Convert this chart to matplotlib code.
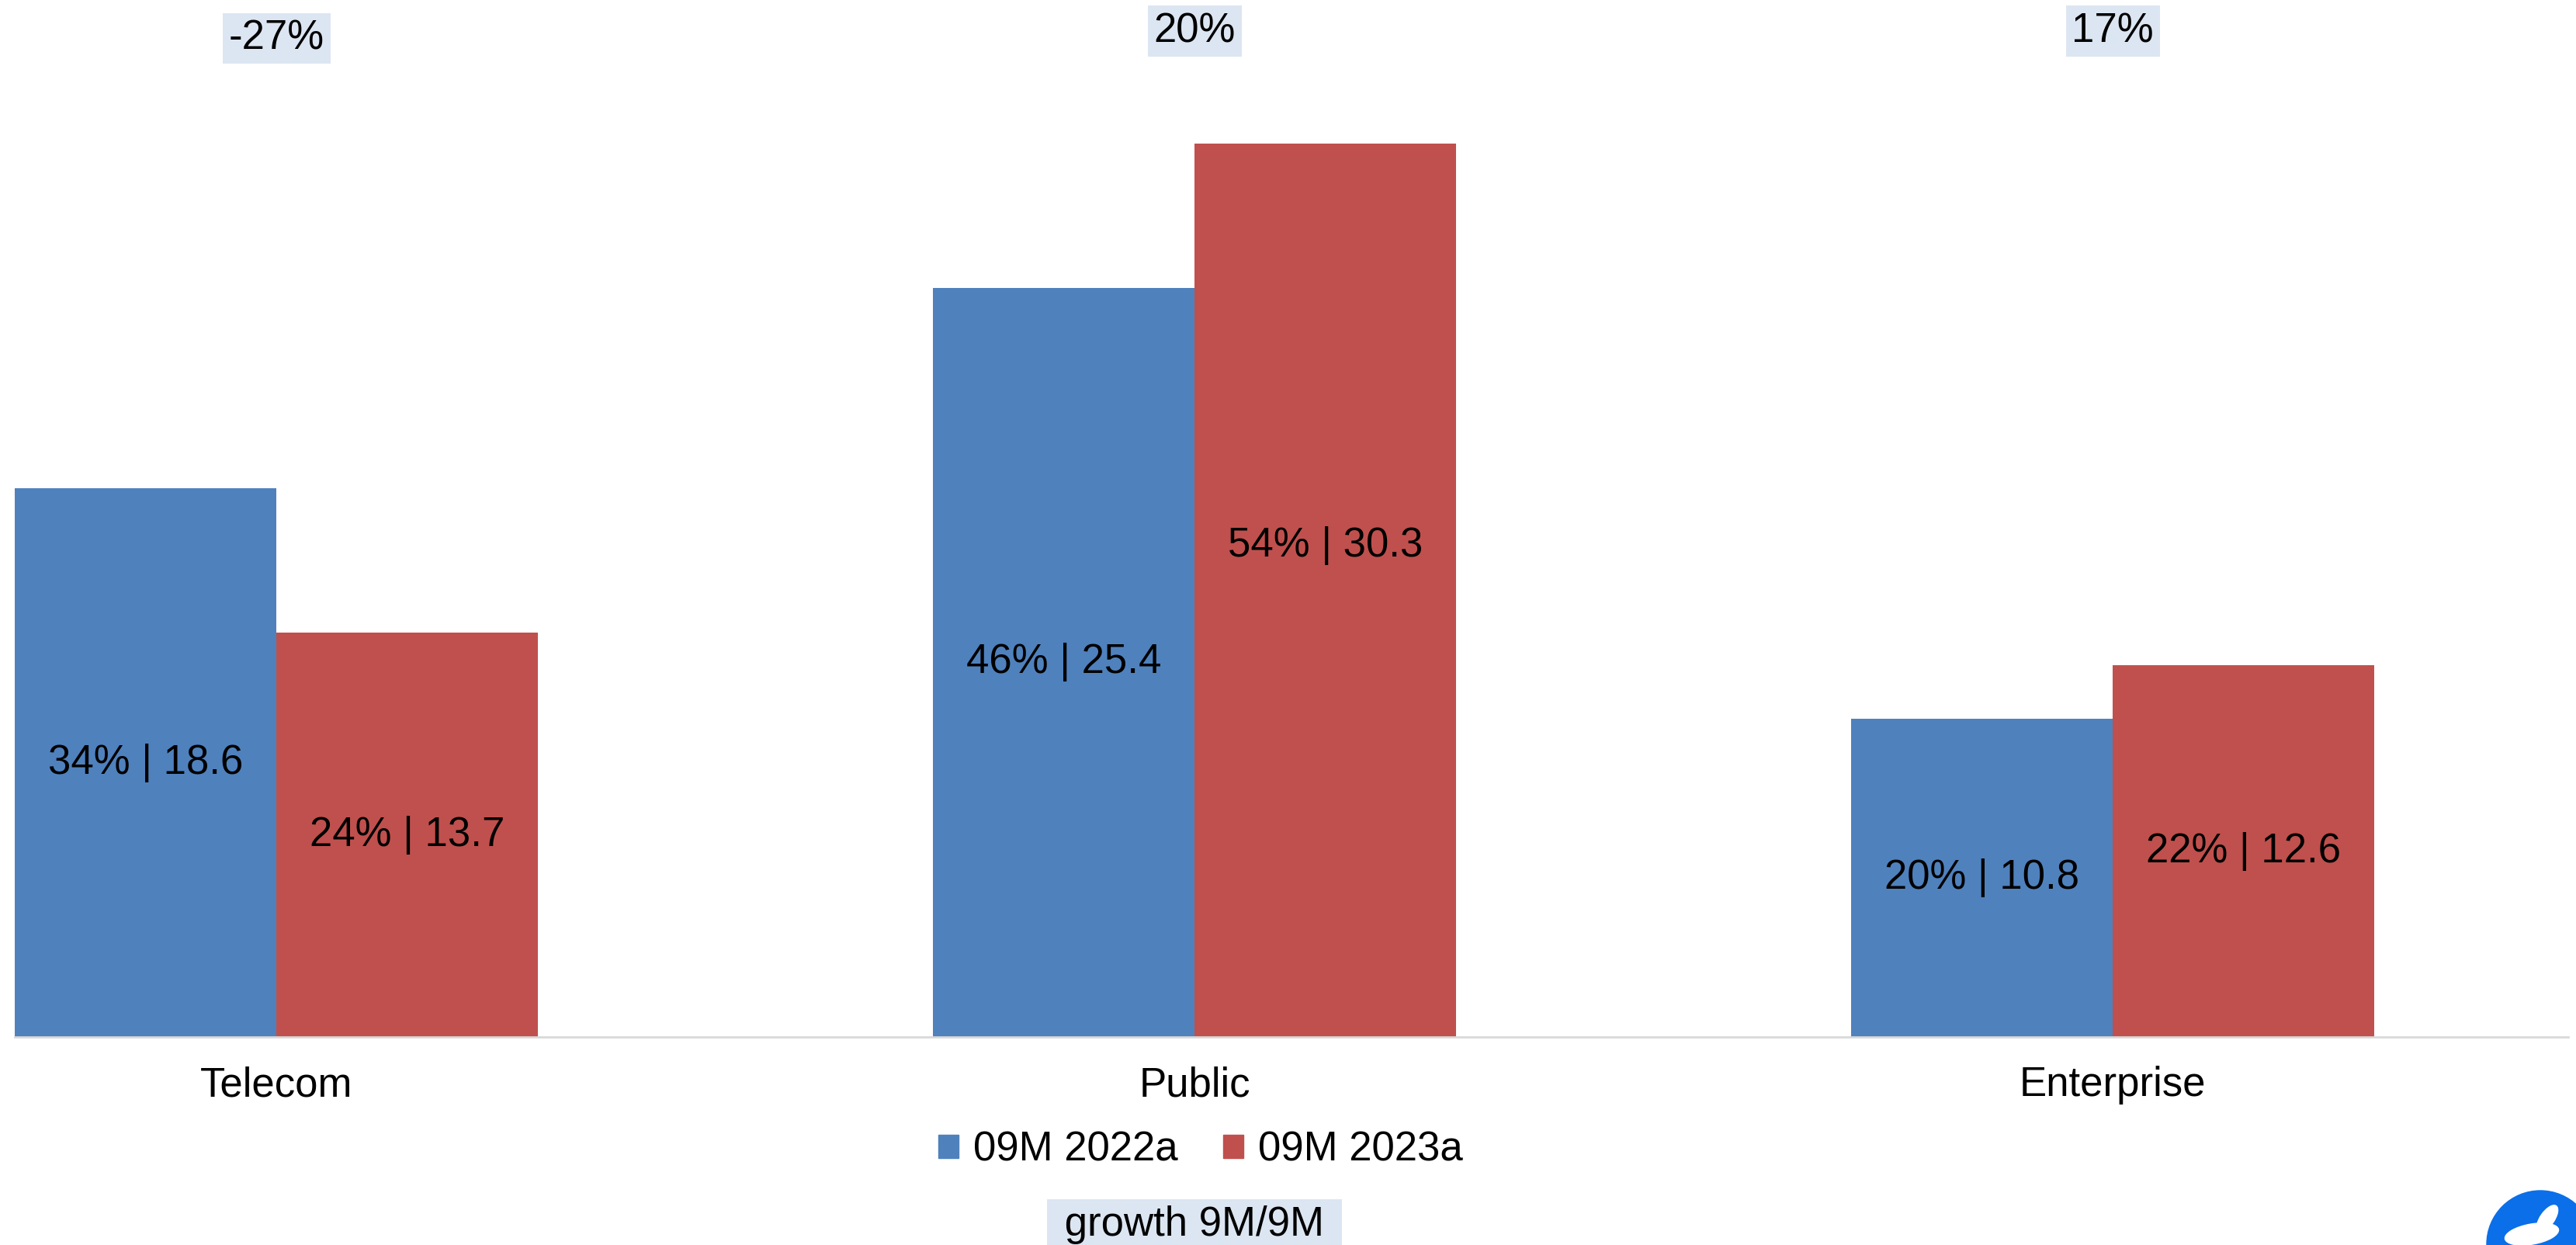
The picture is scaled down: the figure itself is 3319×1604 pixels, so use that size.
import numpy as np
import matplotlib.pyplot as plt
from matplotlib.patches import Patch, Circle, Ellipse

# data
categories = ["Telecom", "Public", "Enterprise"]
series = ["09M 2022a", "09M 2023a"]
values_2022 = [18.6, 25.4, 10.8]
values_2023 = [13.7, 30.3, 12.6]
share_2022 = ["34%", "46%", "20%"]
share_2023 = ["24%", "54%", "22%"]
growth = ["-27%", "20%", "17%"]

blue = "#4F81BD"
red = "#C0504D"
box_col = "#DCE6F2"

plt.rcParams['font.family'] = ['Liberation Sans', 'DejaVu Sans']
fs = 38

fig = plt.figure(figsize=(33.19, 16.04), dpi=100)
ax = fig.add_axes([0.0057, 0.1671, 0.9913, 0.8329])

x = np.arange(len(categories))
w = 0.285
b1 = ax.bar(x - w / 2, values_2022, width=w, color=blue, label=series[0])
b2 = ax.bar(x + w / 2, values_2023, width=w, color=red, label=series[1])

ax.set_xlim(-w, 2.496)
ax.set_ylim(0, 35.16)

# labels inside the bars: "share | value"
lab1 = [f"{s} | {v}" for s, v in zip(share_2022, values_2022)]
lab2 = [f"{s} | {v}" for s, v in zip(share_2023, values_2023)]
ax.bar_label(b1, labels=lab1, label_type='center', fontsize=fs, color='black')
t2 = ax.bar_label(b2, labels=lab2, label_type='center', fontsize=fs, color='black')
# the Public 2023 label sits higher in the original
t2[1].xyann = (0, 41)

# growth boxes on top
for xi, g in zip(x, growth):
    ax.text(xi, 0.963 if g.startswith('-') else 0.970, g, transform=ax.get_xaxis_transform(),
            ha='center', va='center', fontsize=fs,
            bbox=dict(boxstyle='square,pad=0.15', fc=box_col, ec='none'))

ax.set_xticks(x)
ax.set_xticklabels(categories, fontsize=fs)
ax.tick_params(axis='x', length=0, pad=27)
ax.set_yticks([])
for s in ['top', 'left', 'right']:
    ax.spines[s].set_visible(False)
ax.spines['bottom'].set_color('#D9D9D9')
ax.spines['bottom'].set_linewidth(2)

handles = [Patch(color=blue, label=series[0]), Patch(color=red, label=series[1])]
fig.legend(handles=handles, loc='center', bbox_to_anchor=(1547 / 3319, 1 - 1482 / 1604),
           ncol=2, frameon=False, fontsize=fs, handlelength=0.5, handleheight=0.5,
           handletextpad=0.36, columnspacing=1.1, borderaxespad=0)

fig.text(1539 / 3319, 1 - 1578 / 1604, " growth 9M/9M ", ha='center', va='center', fontsize=fs,
         bbox=dict(boxstyle='square,pad=0.15', fc=box_col, ec='none'))

# logo in the corner
lax = fig.add_axes([0, 0, 1, 1], zorder=5)
lax.set_xlim(0, 3319)
lax.set_ylim(1604, 0)
lax.axis('off')
circ = Circle((3273, 1603), 69, color='#0A6FE8')
lax.add_patch(circ)
e1 = Ellipse((3262, 1590), 70, 26, angle=-10, color='white')
e2 = Ellipse((3282, 1570), 40, 18, angle=-55, color='white')
for e in (e1, e2):
    lax.add_patch(e)
    e.set_clip_path(circ)

fig.savefig("out.png", dpi=100)
